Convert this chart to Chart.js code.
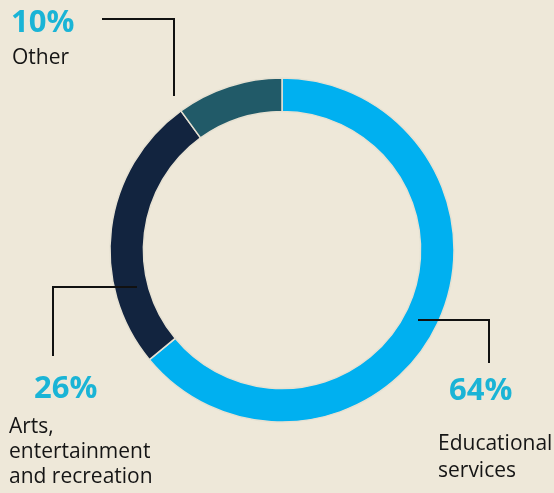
<!DOCTYPE html>
<html>
<head>
<meta charset="UTF-8" />
<title>Doughnut</title>
<script src="https://cdn.jsdelivr.net/npm/chart.js"></script>
<style>
  html, body { margin: 0; padding: 0; background: #eee8d9; }
  #wrap { width: 554px; height: 493px; }
</style>
</head>
<body>
<div id="wrap"><canvas id="c" width="554" height="493"></canvas></div>
<script>
// data
const categories = ["Educational services", "Arts, entertainment and recreation", "Other"];
const shares = [64, 26, 10];
const colors = ["#00b0f0", "#12243f", "#215a68"];

// label text lines for each slice (in the same order)
const labelLines = [["Educational", "services"], ["Arts,", "entertainment", "and recreation"], ["Other"]];

// callout layout: leader path points and text anchor
const callouts = [
  { path: [[418, 320], [489, 320], [489, 363]], pct: [449, 400], text: [438, 450], lh: 27 },
  { path: [[137, 287], [53, 287], [53, 356]], pct: [34, 398], text: [9, 433], lh: 25 },
  { path: [[174, 96], [174, 19], [102, 19]], pct: [11, 32], text: [12, 64], lh: 25 }
];

const calloutPlugin = {
  id: "callouts",
  afterDraw(chart) {
    const ctx = chart.ctx;
    ctx.save();
    callouts.forEach((c, i) => {
      ctx.beginPath();
      ctx.strokeStyle = "#111";
      ctx.lineWidth = 2;
      c.path.forEach((p, k) => k ? ctx.lineTo(p[0], p[1]) : ctx.moveTo(p[0], p[1]));
      ctx.stroke();

      ctx.fillStyle = "#1ab4d6";
      ctx.font = "bold 31px 'Open Sans'";
      ctx.textBaseline = "alphabetic";
      ctx.fillText(shares[i] + "%", c.pct[0], c.pct[1]);

      ctx.fillStyle = "#151515";
      ctx.font = "21px 'Open Sans'";
      labelLines[i].forEach((t, k) => ctx.fillText(t, c.text[0], c.text[1] + k * c.lh));
    });
    ctx.restore();
  }
};

new Chart(document.getElementById("c"), {
  type: "doughnut",
  data: {
    labels: categories,
    datasets: [{
      data: shares,
      backgroundColor: colors,
      borderColor: "#e6e1d2",
      borderWidth: 1.5
    }]
  },
  options: {
    responsive: false,
    animation: false,
    radius: 172,
    cutout: 138,
    layout: { padding: { top: 78, bottom: 71, left: 110, right: 100 } },
    plugins: {
      legend: { display: false },
      tooltip: { enabled: false }
    }
  },
  plugins: [calloutPlugin]
});
</script>
</body>
</html>
